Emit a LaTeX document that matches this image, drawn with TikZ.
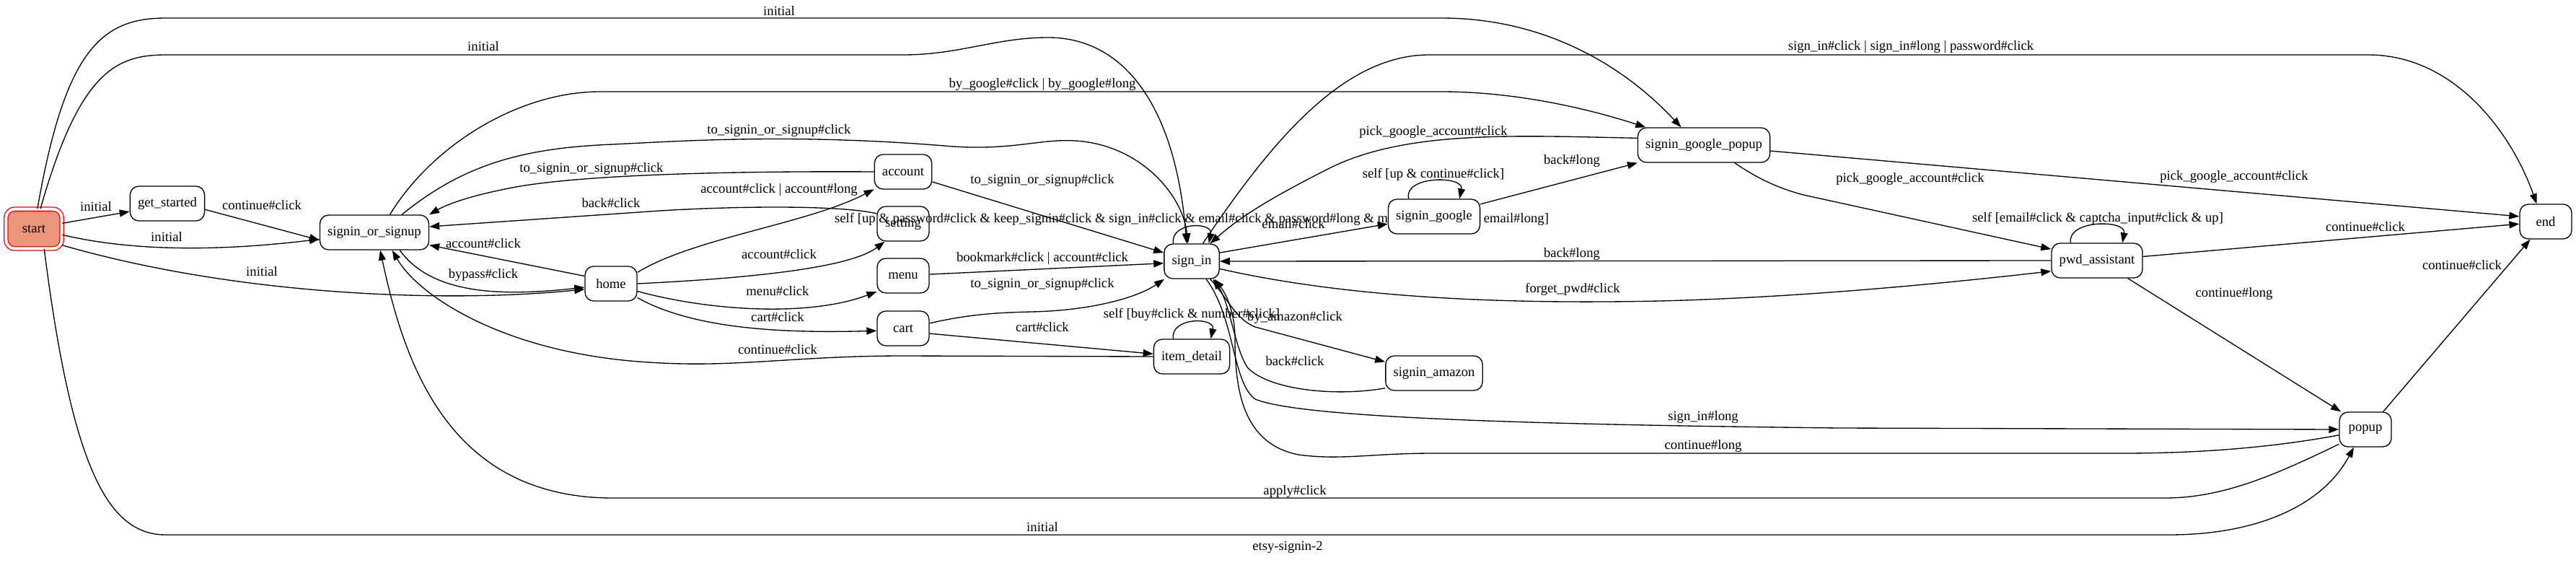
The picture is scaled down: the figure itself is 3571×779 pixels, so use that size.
\documentclass[tikz,border=0pt]{standalone}
\usepackage{fontspec}
\setmainfont{Liberation Serif}
\usetikzlibrary{arrows.meta}
\definecolor{startfill}{HTML}{E9967A}
\pgfdeclarelayer{front}
\pgfsetlayers{main,front}
\begin{document}
\begin{tikzpicture}[x=0.75pt,y=-0.75pt,
  st/.style={draw, line width=1pt, rounded corners=9pt, fill=white, minimum height=36pt, minimum width=54pt, inner xsep=8pt, inner ysep=0pt, font=\fontsize{14}{16}\selectfont},
  lbl/.style={inner sep=0pt, font=\fontsize{14}{16}\selectfont},
  edge/.style={draw, line width=1pt, -{Triangle[length=10.5pt,width=7.5pt]}}]
\useasboundingbox (0,0) rectangle (3571,779);

% nodes
\node[st, draw=red, double=white, double distance=3pt, fill=startfill, minimum width=58pt, minimum height=41pt] (start) at (47,317) {start};
\node[st] (get_started) at (232,282) {get\_started};
\node[st] (signin_or_signup) at (519,322) {signin\_or\_signup};
\node[st] (home) at (847,393) {home};
\node[st] (account) at (1252,238) {account};
\node[st] (setting) at (1252,310) {setting};
\node[st] (menu) at (1252,382) {menu};
\node[st] (cart) at (1252,455) {cart};
\node[st] (sign_in) at (1652,362) {sign\_in};
\node[st] (item_detail) at (1652,494) {item\_detail};
\begin{pgfonlayer}{front}
\node[st] (signin_google) at (1988,300) {signin\_google};
\end{pgfonlayer}
\node[st] (signin_google_popup) at (2362,201) {signin\_google\_popup};
\node[st] (signin_amazon) at (1988,517) {signin\_amazon};
\node[st] (pwd_assistant) at (2907,361) {pwd\_assistant};
\node[st] (end) at (3529,307) {end};
\node[st] (popup) at (3279,595) {popup};

% edges
\draw[edge] (start.11) -- (get_started.192) node[lbl,at={(133,286)}]{initial};
\draw[edge] (get_started.-9) -- (signin_or_signup.188) node[lbl,at={(363,284)}]{continue\#click};
\draw[edge] (start.-12) .. controls (200,352) and (330,345) .. (signin_or_signup.187) node[lbl,at={(231,328)}]{initial};
\draw[edge] (start.-30) .. controls (330,410) and (620,420) .. (home.192) node[lbl,at={(363,376)}]{initial};
\draw[edge] (start.80) .. controls (90,70) and (140,25) .. (230,25) -- (1998,25) .. controls (2140,25) and (2250,90) .. (signin_google_popup.142) node[lbl,at={(1080,15)}]{initial};
\draw[edge] (start.72) .. controls (110,100) and (160,76) .. (230,76) -- (1252,76) .. controls (1330,76) and (1380,52) .. (1453,52) .. controls (1560,52) and (1630,150) .. (sign_in.106) node[lbl,at={(670,64)}]{initial};
\draw[edge] (start.-63) .. controls (100,650) and (150,741) .. (230,741) -- (3006,741) .. controls (3130,741) and (3220,700) .. (popup.237) node[lbl,at={(1445,730)}]{initial};
\draw[edge] (popup.209) .. controls (3150,660) and (3080,690) .. (3000,690) -- (850,690) .. controls (620,690) and (560,500) .. (signin_or_signup.288) node[lbl,at={(1795,681)}]{apply\#click};
\draw[edge] (item_detail.west) -- (1252,493) .. controls (1100,493) and (1020,510) .. (900,502) .. controls (700,490) and (580,410) .. (signin_or_signup.-45) node[lbl,at={(1078,484)}]{continue\#click};
\draw[edge] (signin_or_signup.-35) .. controls (600,410) and (700,410) .. (home.188) node[lbl,at={(670,381)}]{bypass\#click};
\draw[edge] (home.164) -- (signin_or_signup.-13) node[lbl,at={(670,337)}]{account\#click};
\draw[edge] (home.23) .. controls (960,330) and (1120,310) .. (account.211) node[lbl,at={(1080,263)}]{account\#click | account\#long};
\draw[edge] (home.east) .. controls (1050,385) and (1180,370) .. (setting.224) node[lbl,at={(1080,352)}]{account\#click};
\draw[edge] (home.-16) .. controls (980,430) and (1120,440) .. (menu.211) node[lbl,at={(1078,403)}]{menu\#click};
\draw[edge] (home.-28) .. controls (960,455) and (1080,462) .. (cart.185) node[lbl,at={(1078,439)}]{cart\#click};
\draw[edge] (cart.11) .. controls (1340,436) and (1380,433) .. (1430,432) .. controls (1520,430) and (1580,410) .. (sign_in.213) node[lbl,at={(1445,394)}]{to\_signin\_or\_signup\#click};
\draw[edge] (cart.-11) -- (item_detail.176) node[lbl,at={(1445,453)}]{cart\#click};
\draw[edge] (menu.3) -- (sign_in.184) node[lbl,at={(1445,358)}]{bookmark\#click | account\#click};
\draw[edge] (account.-19) -- (sign_in.163) node[lbl,at={(1445,250)}]{to\_signin\_or\_signup\#click};
\draw[edge] (account.west) .. controls (1050,237) and (800,240) .. (700,262) .. controls (650,272) and (620,283) .. (signin_or_signup.18) node[lbl,at={(820,234)}]{to\_signin\_or\_signup\#click};
\draw[edge] (setting.159) .. controls (1160,283) and (1000,286) .. (900,293) -- (signin_or_signup.6) node[lbl,at={(847,281)}]{back\#click};
\draw[edge] (signin_or_signup.49) .. controls (600,200) and (720,127) .. (832,127) -- (1998,127) .. controls (2100,127) and (2200,150) .. (signin_google_popup.163) node[lbl,at={(1445,117)}]{by\_google\#click | by\_google\#long};
\draw[edge] (signin_or_signup.33) .. controls (640,230) and (720,205) .. (850,200) .. controls (950,195) and (1100,185) .. (1309,202) .. controls (1400,210) and (1440,192) .. (1490,195) .. controls (1580,200) and (1640,270) .. (sign_in.102) node[lbl,at={(1080,181)}]{to\_signin\_or\_signup\#click};
\draw[edge] (sign_in.136) .. controls (1622,307) and (1682,307) .. (sign_in.46) node[lbl,at={(1652,304)}]{self [up \& password\#click \& keep\_signin\#click \& sign\_in\#click \& email\#click \& password\#long \& more\_info\#click \& email\#long]};
\draw[edge] (sign_in.58) .. controls (1760,200) and (1860,76) .. (1981,76) -- (3283,76) .. controls (3400,76) and (3480,180) .. (end.117) node[lbl,at={(2649,65)}]{sign\_in\#click | sign\_in\#long | password\#click};
\draw[edge] (signin_google_popup.174) .. controls (2100,188) and (1950,180) .. (1843,233) .. controls (1760,275) and (1720,300) .. (sign_in.44) node[lbl,at={(1987,183)}]{pick\_google\_account\#click};
\draw[edge] (sign_in.17) -- (signin_google.189) node[lbl,at={(1793,310)}]{email\#click};
\draw[edge] (signin_google.145) .. controls (1945,243) and (2030,243) .. (signin_google.35) node[lbl,at={(1987,242)}]{self [up \& continue\#click]};
\draw[edge] (signin_google.15) -- (signin_google_popup.195) node[lbl,at={(2179,223)}]{back\#long};
\draw[edge] (signin_google_popup.-5) -- (end.169) node[lbl,at={(3097,245)}]{pick\_google\_account\#click};
\draw[edge] (signin_google_popup.-30) .. controls (2440,250) and (2470,262) .. (2500,270) -- (pwd_assistant.166) node[lbl,at={(2648,248)}]{pick\_google\_account\#click};
\draw[edge] (pwd_assistant.146) .. controls (2865,304) and (2948,304) .. (pwd_assistant.35) node[lbl,at={(2908,303)}]{self [email\#click \& captcha\_input\#click \& up]};
\draw[edge] (pwd_assistant.5) -- (end.185) node[lbl,at={(3279,314)}]{continue\#click};
\draw[edge] (pwd_assistant.west) -- (sign_in.east) node[lbl,at={(2179,352)}]{back\#long};
\draw[edge] (sign_in.-15) .. controls (1900,420) and (2150,420) .. (2300,417) .. controls (2500,412) and (2700,392) .. (pwd_assistant.193) node[lbl,at={(2180,401)}]{forget\_pwd\#click};
\draw[edge] (pwd_assistant.-30) -- (popup.144) node[lbl,at={(3097,407)}]{continue\#long};
\draw[edge] (popup.45) -- (end.229) node[lbl,at={(3413,367)}]{continue\#click};
\draw[edge] (sign_in.-51) .. controls (1712,440) and (1708,530) .. (1740,553) .. controls (1800,578) and (2100,588) .. (2550,593) -- (popup.west) node[lbl,at={(2361,578)}]{sign\_in\#long};
\draw[edge] (popup.192) .. controls (3150,620) and (3050,628) .. (2941,628) -- (1987,628) .. controls (1900,628) and (1860,638) .. (1800,630) .. controls (1725,615) and (1712,545) .. (1712,470) .. controls (1712,430) and (1698,405) .. (sign_in.-38) node[lbl,at={(2361,618)}]{continue\#long};
\draw[edge] (sign_in.-44) .. controls (1700,410) and (1712,442) .. (1740,453) -- (signin_amazon.167) node[lbl,at={(1795,440)}]{by\_amazon\#click};
\draw[edge] (signin_amazon.197) .. controls (1850,550) and (1760,540) .. (1730,510) .. controls (1712,485) and (1705,420) .. (sign_in.-40) node[lbl,at={(1795,500)}]{back\#click};
\draw[edge] (item_detail.136) .. controls (1622,439) and (1685,439) .. (item_detail.43) node[lbl,at={(1652,436)}]{self [buy\#click \& number\#click]};

\node[lbl] (title) at (1785,758) {etsy-signin-2};
\end{tikzpicture}
\end{document}
